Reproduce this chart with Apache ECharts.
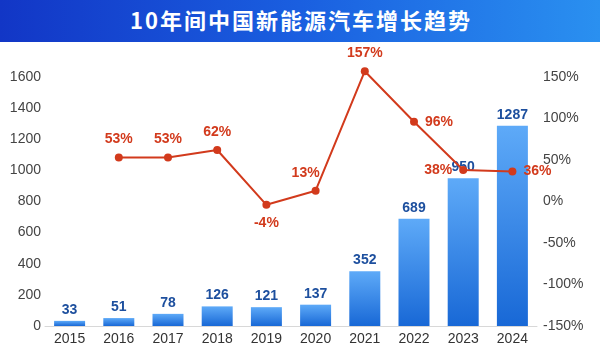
<!DOCTYPE html>
<html><head><meta charset="utf-8">
<script src="https://cdn.jsdelivr.net/npm/echarts@6/dist/echarts.min.js"></script>
<style>
html,body{margin:0;padding:0;background:#fff}
#wrap{position:relative;width:600px;height:350px}
#c{width:600px;height:350px}
#banner{position:absolute;left:0;top:0;width:600px;height:42px;
  background:linear-gradient(90deg,#1236c6 0%,#1a5fe0 50%,#2a90f0 100%);
  color:#fff;font:bold 22px "Noto Sans CJK SC",sans-serif;letter-spacing:2px;
  text-align:center;line-height:38px;padding-left:2px;box-sizing:border-box}
</style>
</head><body><div id="wrap"><div id="c"></div><div id="banner"></div></div>
<script>
const title = '10年间中国新能源汽车增长趋势';
const years = ['2015','2016','2017','2018','2019','2020','2021','2022','2023','2024'];
const sales = [33,51,78,126,121,137,352,689,950,1287];
const growth = [null,53,53,62,-4,13,157,96,38,36];
const growthLabelPos = [null,'top','top','top','bottom','top','top','right','left','right'];

document.getElementById('banner').textContent = title;
const chart = echarts.init(document.getElementById('c'));
const numFont = '"Liberation Sans", Arial, sans-serif';
const lineData = growth.map((v,i)=> v===null ? null : {
  value: v,
  label: {position: growthLabelPos[i], offset: i===5 ? [-10,0] : [0,0]}
});
chart.setOption({
  animation: false,
  grid: {left:45, right:63, top:77, bottom:24},
  xAxis: {
    type:'category', data: years,
    axisTick:{show:false},
    axisLine:{lineStyle:{color:'#d8d8d8'}},
    axisLabel:{color:'#333', fontSize:14, fontFamily:numFont, margin:6}
  },
  yAxis: [
    {type:'value', min:0, max:1600, interval:200, splitLine:{show:false},
     axisLabel:{color:'#444', fontSize:14, fontFamily:numFont, margin:4, formatter:(v)=>String(v)}},
    {type:'value', min:-150, max:150, interval:50, splitLine:{show:false},
     axisLabel:{color:'#444', fontSize:14, fontFamily:numFont, margin:6, formatter:'{value}%'}}
  ],
  series: [
    {type:'bar', data: sales, barWidth:'63%', yAxisIndex:0,
     itemStyle:{color:new echarts.graphic.LinearGradient(0,0,0,1,[{offset:0,color:'#5eaaf8'},{offset:1,color:'#1868d6'}])},
     label:{show:true, position:'top', color:'#1d4f9e', fontWeight:'bold', fontSize:14, fontFamily:numFont, distance:4}},
    {type:'line', data: lineData, yAxisIndex:1, connectNulls:false, clip:false,
     symbol:'circle', symbolSize:8,
     lineStyle:{color:'#d23a1c', width:2},
     itemStyle:{color:'#d23a1c'},
     label:{show:true, color:'#d23a1c', fontWeight:'bold', fontSize:14, fontFamily:numFont, formatter:'{c}%', distance:7}}
  ]
});
</script></body></html>
